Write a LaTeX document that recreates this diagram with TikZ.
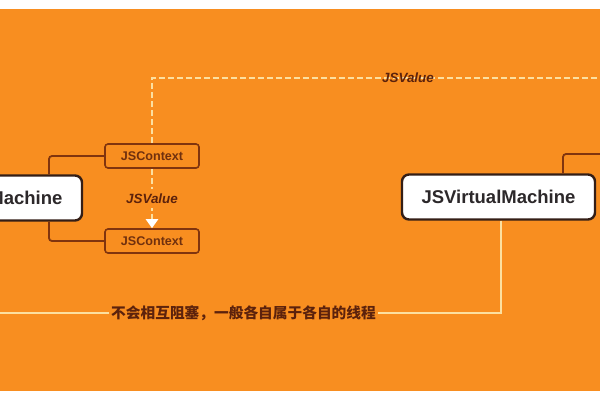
\documentclass[tikz,border=0pt]{standalone}
\usepackage{fontspec}
\setsansfont{Liberation Sans}
\newfontfamily\cjk{Noto Sans CJK SC}
\usetikzlibrary{arrows.meta,positioning}

\definecolor{bgorange}{RGB}{248,142,32}
\definecolor{boxline}{RGB}{52,30,22}
\definecolor{linkbrown}{RGB}{128,52,14}
\definecolor{ctxtext}{RGB}{112,48,14}
\definecolor{valtext}{RGB}{92,34,12}
\definecolor{cream}{RGB}{252,224,160}
\definecolor{vmtext}{RGB}{44,40,42}

\begin{document}
\begin{tikzpicture}[y=-1pt,x=1pt,
	vm/.style={draw=boxline, line width=2.4pt, fill=white, rounded corners=7pt,
		minimum width=193pt, minimum height=45pt, text=vmtext,
		font=\sffamily\bfseries\fontsize{18.5}{20}\selectfont},
	ctx/.style={draw=linkbrown, line width=1.6pt, rounded corners=3pt,
		minimum width=94pt, minimum height=24pt, text=ctxtext,
		font=\sffamily\bfseries\fontsize{12.6}{14}\selectfont},
	link/.style={draw=linkbrown, line width=1.8pt, rounded corners=3pt},
	thread/.style={draw=cream, line width=2.4pt},
	flow/.style={draw=cream, line width=2.2pt, dash pattern=on 6pt off 3pt},
	valtxt/.style={text=valtext, font=\sffamily\bfseries\itshape\fontsize{13.4}{15}\selectfont, inner sep=1pt},
	note/.style={text=valtext, font=\cjk\bfseries\fontsize{14.7}{16}\selectfont, inner sep=2pt}]
	\newcommand\Page{(0,0) rectangle (600,400)}

	\useasboundingbox \Page;
	\clip \Page;
	\fill[white] \Page;
	\fill[bgorange] (0,9) rectangle (600,391);

	% the two machines
	\node[vm] (vmA) at (-14.5,198) {JSVirtualMachine};
	\node[vm] (vmB) at (498.5,197) {JSVirtualMachine};

	% contexts of the left machine
	\node[ctx] (ctxA) at (152,156) {JSContext};
	\node[ctx] (ctxB) at (152,241) {JSContext};

	\coordinate (tapA) at (49,0);
	\coordinate (tapB) at (563,0);
	\coordinate (tapC) at (501,0);
	\coordinate (edgeR) at (600,154);
	\coordinate (edgeL) at (0,313);
	\coordinate (bend) at (152,78);
	\coordinate (edgeT) at (600,78);

	\draw[link] (vmA.north -| tapA) |- (ctxA.west);
	\draw[link] (vmA.south -| tapA) |- (ctxB.west);
	\draw[link] (vmB.north -| tapB) |- (edgeR);

	% values passed between contexts
	\draw[flow] (ctxA.north) -- (bend) -- (edgeT);
	\node[valtxt] (valTop) at (408,78) {JSValue};
	\draw[flow, -{Triangle[width=12pt,length=9pt,color=white]}] (ctxA.south) -- node[valtxt, fill=bgorange, inner ysep=5pt] (valMid) {JSValue} (ctxB.north);

	% threads
	\node[note] (note) at (243.5,313) {不会相互阻塞，一般各自属于各自的线程};
	\draw[thread] (vmB.south -| tapC) |- (note.east);
	\draw[thread] (note.west) -- (edgeL);
\end{tikzpicture}
\end{document}
